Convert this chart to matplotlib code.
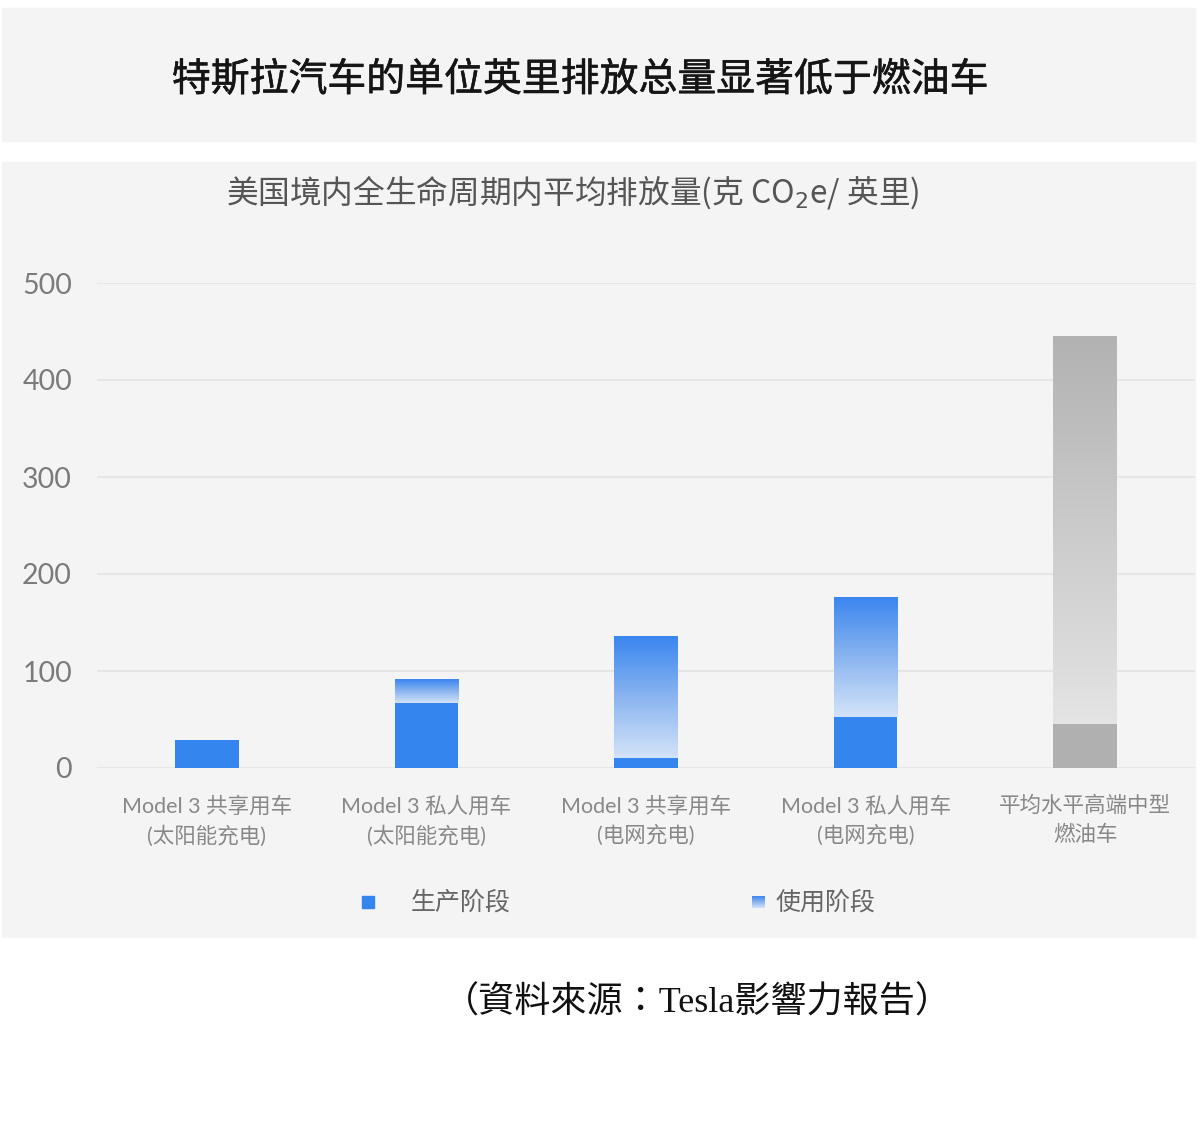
import numpy as np
import matplotlib
matplotlib.use('Agg')
import matplotlib.pyplot as plt
import matplotlib.patheffects as pe
from matplotlib.colors import LinearSegmentedColormap
from matplotlib.patches import Rectangle

# data
categories = ['Model 3 共享用车\n(太阳能充电)',
              'Model 3 私人用车\n(太阳能充电)',
              'Model 3 共享用车\n(电网充电)',
              'Model 3 私人用车\n(电网充电)',
              '平均水平高端中型\n燃油车']
production = [29, 67, 10, 53, 45]
usage = [0, 24, 125, 123, 400]
is_ice = [False, False, False, False, True]
yticks = [0, 100, 200, 300, 400, 500]
legend_labels = ['生产阶段', '使用阶段']

title = '特斯拉汽车的单位英里排放总量显著低于燃油车'
subtitle = '美国境内全生命周期内平均排放量(克 CO$_2$e/ 英里)'
source = '（資料來源：Tesla影響力報告）'

W, H = 1200, 1145
CJK = 'Noto Sans CJK SC'

blue = '#3585ee'
gray = '#b0b0b0'
blue_grad = LinearSegmentedColormap.from_list('bg', ['#d3e3f8', '#8ab5f0', '#3a86ef'])
gray_grad = LinearSegmentedColormap.from_list('gg', ['#e4e4e4', '#b2b2b2'])
ramp = np.linspace(0, 1, 256).reshape(-1, 1)


def fx(x):
    return x / W


def fy(y):
    return 1 - y / H


fig = plt.figure(figsize=(W / 100, H / 100), dpi=100)
fig.patch.set_facecolor('white')

# background panels
fig.patches.append(Rectangle((fx(2), fy(141)), 1193 / W, 133 / H,
                             transform=fig.transFigure, color='#f4f4f4', zorder=-2))
fig.patches.append(Rectangle((fx(2), fy(937)), 1193 / W, 775 / H,
                             transform=fig.transFigure, color='#f4f4f4', zorder=-2))

fig.text(fx(580), fy(80), title, ha='center', va='center', fontsize=28,
         family=CJK, color='#151515',
         path_effects=[pe.withStroke(linewidth=0.4, foreground='#151515')])
fig.text(fx(573), fy(192), subtitle, ha='center', va='center', fontsize=22.8,
         family=CJK, color='#555555')

ax = fig.add_axes([fx(97), fy(768), 1098 / W, 485 / H])
ax.set_facecolor('none')

x = np.arange(len(categories))
bw = 0.29
ax.bar(x, production, width=bw, color=[gray if g else blue for g in is_ice],
       zorder=3)
ubars = ax.bar(x, usage, bottom=production, width=bw, color='none', zorder=3)
for p, g in zip(ubars.patches, is_ice):
    if p.get_height() <= 0:
        continue
    ax.imshow(ramp, cmap=gray_grad if g else blue_grad, origin='lower',
              aspect='auto', zorder=3,
              extent=(p.get_x(), p.get_x() + p.get_width(),
                      p.get_y(), p.get_y() + p.get_height()))

ax.set_xlim(-0.5, 4.5)
ax.set_ylim(0, 500)
ax.set_yticks(yticks)
ax.yaxis.grid(True, color='#e6e6e6', lw=1.5)
ax.set_axisbelow(True)
for s in ax.spines.values():
    s.set_visible(False)
ax.tick_params(axis='y', length=0, pad=18, labelsize=20.5, labelcolor='#7b7b7b')
ax.tick_params(axis='x', length=0, pad=20)
for t in ax.get_yticklabels():
    t.set_family('Lato')
ax.set_xticks(x)
ax.set_xticklabels(categories, fontsize=15.5, color='#888888', linespacing=1.5,
                   family=['Lato', CJK])

# legend
fig.patches.append(Rectangle((fx(362), fy(908)), 12 / W, 12 / H,
                             transform=fig.transFigure, color=blue, zorder=2))
lax = fig.add_axes([fx(752), fy(908), 13 / W, 12 / H])
lax.imshow(ramp, cmap=blue_grad, origin='lower', aspect='auto')
lax.axis('off')
fig.text(fx(411), fy(903), legend_labels[0], va='center', fontsize=18,
         family=CJK, color='#666666')
fig.text(fx(775), fy(903), legend_labels[1], va='center', fontsize=18,
         family=CJK, color='#666666')

fig.text(fx(697), fy(1003), source, ha='center', va='center', fontsize=26,
         family=['Liberation Serif', 'Noto Sans CJK TC'], color='#111111')

fig.savefig('out.png', dpi=100)
